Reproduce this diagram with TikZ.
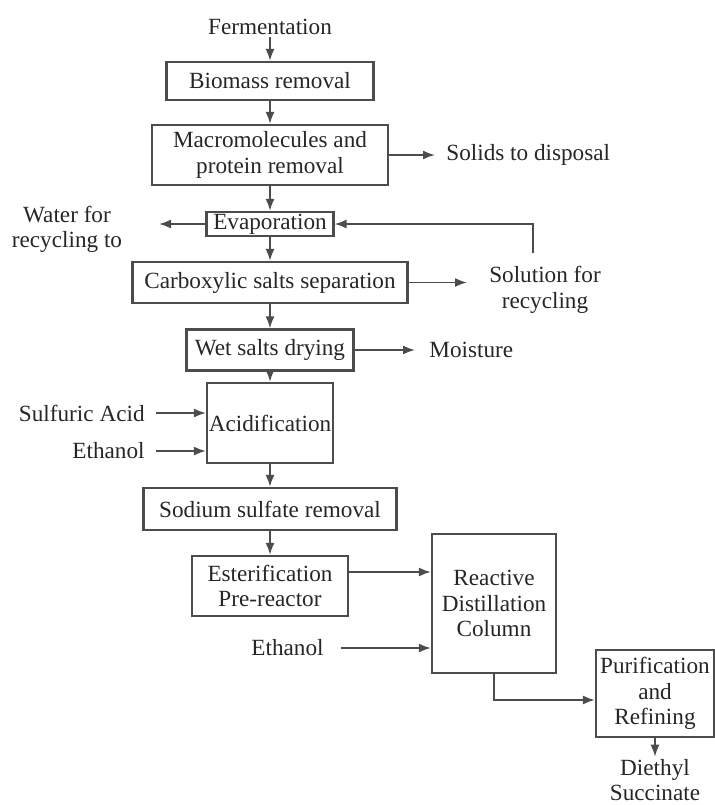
\documentclass[tikz,border=0pt]{standalone}
\usepackage{fontspec}
\setmainfont{Liberation Serif}
\usetikzlibrary{arrows.meta}
\tikzset{
  box/.style={draw=black!70, line width=1.1pt, inner sep=0pt, align=center},
  lbl/.style={inner sep=1pt, align=center},
  flow/.style={draw=black!70, line width=0.9pt, -{Latex[length=6pt,width=4.5pt]}},
}
\begin{document}
\begin{tikzpicture}[x=0.5pt,y=-0.5pt,font=\fontsize{11.6}{12.7}\selectfont,text=black!85]
\useasboundingbox (0,0) rectangle (715,805);
\node[lbl] (ferm) at (270,27) {Fermentation};
\node[box, minimum width=103.5pt, minimum height=19pt] (bio) at (270,81) {Biomass removal};
\node[box, minimum width=118pt, minimum height=30pt] (macro) at (270,155) {Macromolecules and\\protein removal};
\node[box, minimum width=63.5pt, minimum height=12pt] (evap) at (270,224) {Evaporation};
\node[box, minimum width=137.5pt, minimum height=20.5pt] (carbox) at (270,282.5) {Carboxylic salts separation};
\node[box, minimum width=83.5pt, minimum height=20.5pt] (wet) at (270,350) {Wet salts drying};
\node[box, minimum width=63pt, minimum height=40pt] (acid) at (270,423) {\raisebox{-3.5pt}{Acidification}};
\node[box, minimum width=126.5pt, minimum height=21pt] (sod) at (270,509) {Sodium sulfate removal};
\node[box, minimum width=78pt, minimum height=30pt] (ester) at (270,586) {Esterification\\Pre-reactor};
\node[box, minimum width=62pt, minimum height=69.5pt] (rdc) at (494,603.5) {Reactive\\Distillation\\Column};
\node[box, minimum width=59pt, minimum height=43.5pt] (purif) at (655,693.5) {Purification\\and\\Refining};
\node[lbl] (dieth) at (655,780) {Diethyl\\Succinate};
\node[lbl, anchor=west] (solids) at (444,155) {Solids to disposal};
\node[lbl] (water) at (67,229.5) {Water for\\recycling to};
\node[lbl] (sol) at (545,290) {Solution for\\recycling};
\node[lbl, anchor=west] (moist) at (427,350) {Moisture};
\node[lbl, anchor=east] (sulf) at (147,413) {Sulfuric Acid};
\node[lbl, anchor=east] (eth1) at (147,451) {Ethanol};
\node[lbl, anchor=east] (eth2) at (326,648) {Ethanol};
\coordinate (wout) at (159,224);
\coordinate (solin) at (467,282.5);
\coordinate (fb) at (533,253);
\draw[flow] (ferm) -- (bio);
\draw[flow] (bio) -- (macro);
\draw[flow] (macro) -- (evap);
\draw[flow] (evap) -- (carbox);
\draw[flow] (carbox) -- (wet);
\draw[flow] (wet) -- (acid);
\draw[flow] (acid) -- (sod);
\draw[flow] (sod) -- (ester);
\draw[flow, shorten >=4.5pt] (macro) -- (solids);
\draw[flow] (evap) -- (wout);
\draw[flow] (carbox) -- (solin);
\draw[flow] (fb) |- (evap);
\draw[flow, shorten >=6pt] (wet) -- (moist);
\draw[flow, shorten <=4.5pt] (sulf) -- (acid.west |- sulf);
\draw[flow, shorten <=4.5pt] (eth1) -- (acid.west |- eth1);
\draw[flow] ([yshift=7pt]ester.east) -- ([yshift=7pt]ester.east -| rdc.west);
\draw[flow, shorten <=7.5pt] (eth2) -- (rdc.west |- eth2);
\draw[flow] (rdc.south) |- ([yshift=-3.25pt]purif.west);
\draw[flow] (purif) -- (dieth);
\end{tikzpicture}
\end{document}
